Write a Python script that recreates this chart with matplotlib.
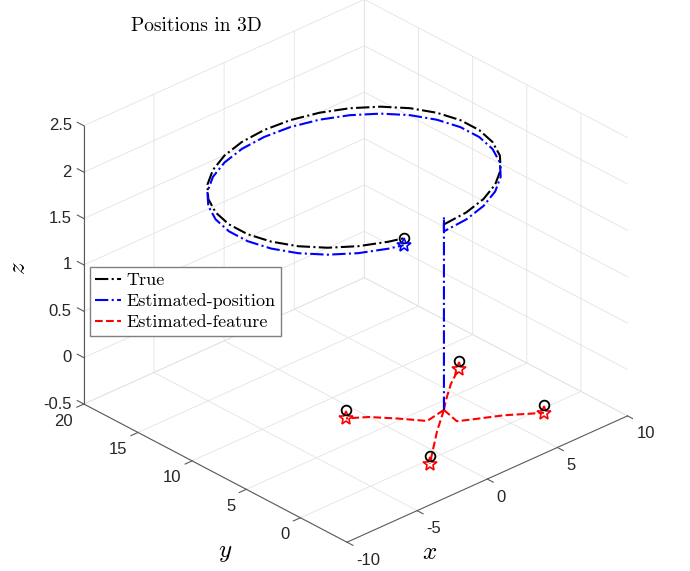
import numpy as np
import matplotlib
matplotlib.use("Agg")
import matplotlib.pyplot as plt
from mpl_toolkits.mplot3d import proj3d

# true camera path: a circle at constant height
true_x = [0.0, 1.73, 3.38, 4.88, 6.17, 7.19, 7.89, 8.25, 8.25, 7.89, 7.19, 6.17,
          4.88, 3.38, 1.73, 0.0, -1.73, -3.38, -4.88, -6.17, -7.19, -7.89, -8.25,
          -8.25, -7.89, -7.19, -6.17, -4.88, -3.38, -2.56]
true_y = [-0.3, -0.12, 0.42, 1.29, 2.45, 3.85, 5.44, 7.13, 8.87, 10.56, 12.15, 13.55,
          14.71, 15.58, 16.12, 16.3, 16.12, 15.58, 14.71, 13.55, 12.15, 10.56, 8.87,
          7.13, 5.44, 3.85, 2.45, 1.29, 0.42, 0.11]
true_z = [2.0] * len(true_x)

# estimated path: climbs from the ground, then follows the circle a bit lower
est_x = [0.0, 0.0] + true_x
est_y = [-0.3, -0.3] + true_y
est_z = [0.0, 2.08] + [1.925] * len(true_x)

# true feature positions
feat_x = [-3.8, 4.2, 4.15, -3.9]
feat_y = [3.82, -4.09, 3.72, -4.05]
feat_z = [0.0, 0.0, 0.0, 0.0]
feat_est_z = -0.085

# estimated feature tracks, all starting below the first camera position
left_x = [0.0, -1.45, -2.4, -3.4, -3.8]
left_y = [-0.3, -0.63, 0.85, 2.23, 3.82]
right_x = [0.0, -0.33, 0.48, 1.93, 4.2]
right_y = [-0.3, -1.92, -2.46, -3.38, -4.09]
top_x = [0.0, 0.7, 2.15, 4.15]
top_y = [-0.3, 0.45, 1.85, 3.72]
bottom_x = [0.0, -1.78, -3.12, -3.9]
bottom_y = [-0.3, -1.98, -3.38, -4.05]
tracks = [(left_x, left_y), (right_x, right_y), (top_x, top_y), (bottom_x, bottom_y)]

x_ticks = [-10, -5, 0, 5, 10]
y_ticks = [0, 5, 10, 15, 20]
z_ticks = [-0.5, 0, 0.5, 1, 1.5, 2, 2.5]
z_tick_labels = ['-0.5', '0', '0.5', '1', '1.5', '2', '2.5']

plt.rcParams['font.family'] = ['Liberation Sans', 'DejaVu Sans']
plt.rcParams['mathtext.fontset'] = 'cm'

W, H = 690, 571
fig = plt.figure(figsize=(W / 100, H / 100), dpi=100)
ax = fig.add_axes([0.0043, 0.0122, 1, 1], projection='3d', proj_type='ortho')
ax.view_init(elev=29.1, azim=-132.8)
ax.set_box_aspect((1, 1.013, 0.833), zoom=1.072)
ax.set_axis_off()
ax.computed_zorder = False

xmin, xmax = -10, 10
ymin, ymax = -4.3, 20
zmin, zmax = -0.5, 2.5

# MATLAB style box: grid on the floor and the two back walls
grid_kw = dict(color='#e3e3e3', lw=0.6, zorder=1)
for v in x_ticks:
    ax.plot([v, v, v], [ymin, ymax, ymax], [zmin, zmin, zmax], **grid_kw)
for v in y_ticks:
    ax.plot([xmin, xmax, xmax], [v, v, v], [zmin, zmin, zmax], **grid_kw)
for v in z_ticks:
    ax.plot([xmin, xmax, xmax], [ymax, ymax, ymin], [v, v, v], **grid_kw)

axis_kw = dict(color='#5a5a5a', lw=0.8, zorder=2)
ax.plot([xmin, xmax], [ymin, ymin], [zmin, zmin], **axis_kw)
ax.plot([xmin, xmin], [ymin, ymax], [zmin, zmin], **axis_kw)
ax.plot([xmin, xmin], [ymax, ymax], [zmin, zmax], **axis_kw)
for v in x_ticks:
    ax.plot([v, v], [ymin, ymin - 0.55], [zmin, zmin], **axis_kw)
for v in y_ticks:
    ax.plot([xmin, xmin - 0.5], [v, v], [zmin, zmin], **axis_kw)
for v in z_ticks:
    ax.plot([xmin, xmin], [ymax, ymax + 0.6], [v, v], **axis_kw)

ax.plot(true_x, true_y, true_z, color='black', ls='-.', lw=1.5, label='True', zorder=4)
ax.plot(est_x, est_y, est_z, color='blue', ls='-.', lw=1.5, label='Estimated-position', zorder=4)
for i, (tx, ty) in enumerate(tracks):
    tz = [0.0] * (len(tx) - 1) + [feat_est_z]
    ax.plot(tx, ty, tz, color='red', ls='--', lw=1.5, zorder=3,
            label='Estimated-feature' if i == 0 else None)
    ax.plot([tx[-1]], [ty[-1]], [tz[-1]], marker='*', ms=10, mfc='none', mec='red', mew=1.2, zorder=5)

ax.plot(feat_x, feat_y, feat_z, ls='none', marker='o', ms=7, mfc='none', mec='black', mew=1.3, zorder=5)
ax.plot([true_x[-1]], [true_y[-1]], [true_z[-1]], marker='o', ms=7, mfc='none', mec='black', mew=1.3, zorder=5)
ax.plot([est_x[-1]], [est_y[-1]], [est_z[-1]], marker='*', ms=10, mfc='none', mec='blue', mew=1.2, zorder=5)

ax.set_xlim(xmin, xmax)
ax.set_ylim(ymin, ymax)
ax.set_zlim(zmin, zmax)

fig.canvas.draw()
M = ax.get_proj()


def to_fig(x, y, z, dx, dy):
    # project a 3D point to figure fraction, shifted by (dx, dy) pixels
    px, py, _ = proj3d.proj_transform(x, y, z, M)
    sx, sy = ax.transData.transform((px, py))
    return (sx + dx) / W, (sy + dy) / H


# tick labels placed like MATLAB does, offset in screen pixels from each tick
tick_font = dict(fontsize=12, color='#262626')
for v in x_ticks:
    fig.text(*to_fig(v, ymin, zmin, 9, -18), str(v), ha='left', va='center', **tick_font)
for v in y_ticks:
    fig.text(*to_fig(xmin, v, zmin, -11, -17), str(v), ha='right', va='center', **tick_font)
for v, s in zip(z_ticks, z_tick_labels):
    fig.text(*to_fig(xmin, ymax, v, -12, 0), s, ha='right', va='center', **tick_font)

fig.text(430 / W, 1 - 552 / H, '$x$', fontsize=18, ha='center', va='center')
fig.text(225 / W, 1 - 552 / H, '$y$', fontsize=18, ha='center', va='center')
fig.text(18 / W, 1 - 268 / H, '$z$', fontsize=18, ha='center', va='center', rotation=90)

fig.text(196 / W, 1 - 26 / H, 'Positions in 3D', family='cmr10', fontsize=14,
         ha='center', va='center')
ax.legend(loc='upper left', bbox_to_anchor=(90 / W, 1 - 267 / H), bbox_transform=fig.transFigure,
          prop={'family': 'cmr10', 'size': 13}, fancybox=False, edgecolor='#808080',
          framealpha=1, handlelength=1.4, borderaxespad=0, borderpad=0.3, labelspacing=0.3,
          handletextpad=0.3)

fig.savefig('out.png', dpi=100)
